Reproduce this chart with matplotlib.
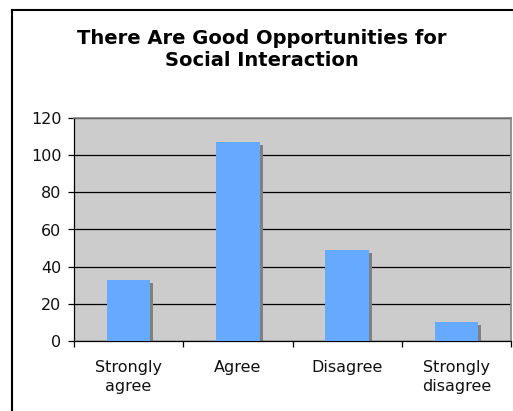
import numpy as np
import matplotlib
matplotlib.use("Agg")
import matplotlib.pyplot as plt
from matplotlib.lines import Line2D

categories = ["Strongly\nagree", "Agree", "Disagree", "Strongly\ndisagree"]
counts = [33, 107, 49, 10]
y_ticks = [0, 20, 40, 60, 80, 100, 120]
title = "There Are Good Opportunities for\nSocial Interaction"

W, H = 513, 411
fig = plt.figure(figsize=(W / 100, H / 100), dpi=100)
fig.patch.set_facecolor("white")

# chart frame (only left/top edges visible in the picture)
fig.add_artist(Line2D([12 / W, 12 / W], [0, 1 - 10 / H], color="black", lw=1.5))
fig.add_artist(Line2D([12 / W, 1], [1 - 10 / H, 1 - 10 / H], color="black", lw=1.5))

ax = fig.add_axes([74 / W, 1 - 341 / H, (511 - 74) / W, (341 - 118) / H])
ax.set_facecolor("#CCCCCC")

x = np.arange(len(categories))
bw = 0.4
# shadow offset: ~3 px right and down
px_x = (len(categories)) / (511 - 74)
px_y = 120 / (341 - 118)
ax.bar(x + 3 * px_x, np.array(counts) - 3 * px_y, width=bw, color="#808080", zorder=2)
ax.bar(x, counts, width=bw, color="#66AAFF", zorder=3)

ax.set_xlim(-0.5, len(categories) - 0.5)
ax.set_ylim(0, 120)
ax.set_yticks(y_ticks)
ax.yaxis.grid(True, color="black", lw=0.9)
ax.set_axisbelow(True)

ax.set_xticks(x)
ax.set_xticklabels(categories, fontsize=11.5, color="#111111", linespacing=1.3)
ax.set_xticks(np.arange(len(categories) + 1) - 0.5, minor=True)
ax.tick_params(axis="x", which="major", length=0, pad=14)
ax.tick_params(axis="x", which="minor", length=4, width=0.9, direction="out", color="black")
ax.tick_params(axis="y", length=4, width=0.9, direction="out", color="black",
               labelsize=11.5, pad=5, labelcolor="#111111")

for s in ["left", "bottom"]:
    ax.spines[s].set_color("black")
    ax.spines[s].set_linewidth(0.9)
for s in ["top", "right"]:
    ax.spines[s].set_color("#808080")
    ax.spines[s].set_linewidth(1.2)

fig.text(262 / W, 1 - 49 / H, title, ha="center", va="center",
         fontsize=14, fontweight="bold", linespacing=1.2)

fig.savefig("out.png", dpi=100)
